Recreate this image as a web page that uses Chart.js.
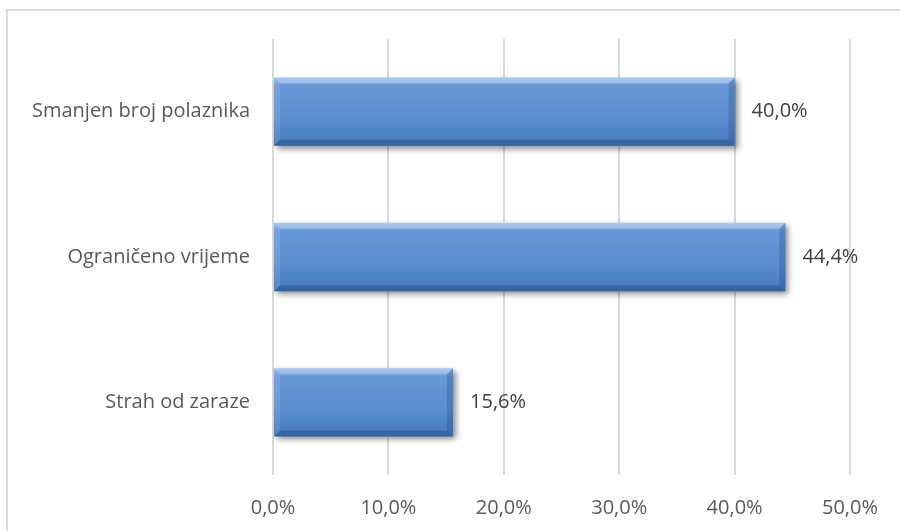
<!DOCTYPE html>
<html>
<head>
<meta charset="utf-8">
<script src="https://cdn.jsdelivr.net/npm/chart.js@4/dist/chart.umd.min.js"></script>
<style>
    html, body { margin: 0; padding: 0; background: #fff; }
    #wrap { width: 900px; height: 531px; position: relative; }
</style>
</head>
<body>
<div id="wrap"><canvas id="chart" width="900" height="531"></canvas></div>
<script>
// Chart data
const categories = ['Smanjen broj polaznika', 'Ograničeno vrijeme', 'Strah od zaraze'];
const values = [40.0, 44.4, 15.6];
const xTicks = [0, 10, 20, 30, 40, 50];

const fontFamily = "'Open Sans', 'Liberation Sans', sans-serif";
const barPct = 0.47;

function pct(v) {
    return v.toFixed(1).replace('.', ',') + '%';
}

// Outer frame (only top and left edges are visible in the picture)
const framePlugin = {
    id: 'frame',
    beforeDraw(chart) {
        const ctx = chart.ctx;
        ctx.save();
        ctx.strokeStyle = '#d9d9d9';
        ctx.lineWidth = 2;
        ctx.beginPath();
        ctx.moveTo(7, 540);
        ctx.lineTo(7, 10);
        ctx.lineTo(910, 10);
        ctx.stroke();
        ctx.restore();
    }
};

// Drop shadow under the bars
const shadowPlugin = {
    id: 'barShadow',
    beforeDatasetDraw(chart) {
        const ctx = chart.ctx;
        ctx.save();
        ctx.shadowColor = 'rgba(0, 0, 0, 0.45)';
        ctx.shadowBlur = 6;
        ctx.shadowOffsetX = 3;
        ctx.shadowOffsetY = 3;
    },
    afterDatasetDraw(chart) {
        chart.ctx.restore();
    }
};

// Bevel edges and value labels
const bevelPlugin = {
    id: 'bevel',
    afterDatasetsDraw(chart) {
        const ctx = chart.ctx;
        const meta = chart.getDatasetMeta(0);
        meta.data.forEach((bar, i) => {
            const x0 = bar.base, x1 = bar.x;
            const y0 = bar.y - bar.height / 2, y1 = bar.y + bar.height / 2;
            const b = 6;
            ctx.save();
            // top
            ctx.fillStyle = 'rgba(255, 255, 255, 0.25)';
            ctx.beginPath();
            ctx.moveTo(x0, y0); ctx.lineTo(x1, y0); ctx.lineTo(x1 - b, y0 + b); ctx.lineTo(x0 + b, y0 + b);
            ctx.closePath(); ctx.fill();
            // left
            ctx.fillStyle = 'rgba(255, 255, 255, 0.10)';
            ctx.beginPath();
            ctx.moveTo(x0, y0); ctx.lineTo(x0 + b, y0 + b); ctx.lineTo(x0 + b, y1 - b); ctx.lineTo(x0, y1);
            ctx.closePath(); ctx.fill();
            // bottom
            ctx.fillStyle = 'rgba(20, 50, 100, 0.30)';
            ctx.beginPath();
            ctx.moveTo(x0, y1); ctx.lineTo(x0 + b, y1 - b); ctx.lineTo(x1 - b, y1 - b); ctx.lineTo(x1, y1);
            ctx.closePath(); ctx.fill();
            // right
            ctx.fillStyle = 'rgba(20, 50, 100, 0.22)';
            ctx.beginPath();
            ctx.moveTo(x1, y0); ctx.lineTo(x1, y1); ctx.lineTo(x1 - b, y1 - b); ctx.lineTo(x1 - b, y0 + b);
            ctx.closePath(); ctx.fill();

            // value label
            ctx.fillStyle = '#404040';
            ctx.font = '20px ' + fontFamily;
            ctx.textAlign = 'left';
            ctx.textBaseline = 'middle';
            ctx.fillText(pct(values[i]), x1 + 17, bar.y);
            ctx.restore();
        });
    }
};

function barGradient(context) {
    const chart = context.chart;
    const yScale = chart.scales.y;
    if (!chart.chartArea || !yScale) return '#5a8fd2';
    const center = yScale.getPixelForValue(context.dataIndex);
    const half = (chart.chartArea.height / categories.length) * barPct / 2;
    if (!Number.isFinite(center) || !Number.isFinite(half)) return '#5a8fd2';
    const g = chart.ctx.createLinearGradient(0, center - half, 0, center + half);
    g.addColorStop(0, '#8fbaec');
    g.addColorStop(0.12, '#6898d8');
    g.addColorStop(0.6, '#5a8ed0');
    g.addColorStop(1, '#4578bd');
    return g;
}

new Chart(document.getElementById('chart'), {
    type: 'bar',
    data: {
        labels: categories,
        datasets: [{
            data: values,
            backgroundColor: barGradient,
            borderWidth: 0,
            barPercentage: barPct,
            categoryPercentage: 1
        }]
    },
    options: {
        indexAxis: 'y',
        responsive: false,
        animation: false,
        layout: { padding: { top: 39, right: 50, left: 0, bottom: 0 } },
        plugins: {
            legend: { display: false },
            tooltip: { enabled: false }
        },
        scales: {
            x: {
                min: 0,
                max: 50,
                afterBuildTicks(axis) {
                    axis.ticks = xTicks.map(v => ({ value: v }));
                },
                afterFit(axis) { axis.height = 56; },
                ticks: {
                    color: '#595959',
                    font: { family: fontFamily, size: 20 },
                    padding: 21,
                    maxRotation: 0,
                    callback: v => pct(v)
                },
                grid: { color: '#d9d9d9', lineWidth: 2, drawTicks: false },
                border: { display: false }
            },
            y: {
                afterFit(axis) { axis.width = 273; },
                ticks: {
                    color: '#595959',
                    font: { family: fontFamily, size: 20 },
                    padding: 23
                },
                grid: { display: false, drawTicks: false },
                border: { display: false }
            }
        }
    },
    plugins: [framePlugin, shadowPlugin, bevelPlugin]
});
</script>
</body>
</html>
